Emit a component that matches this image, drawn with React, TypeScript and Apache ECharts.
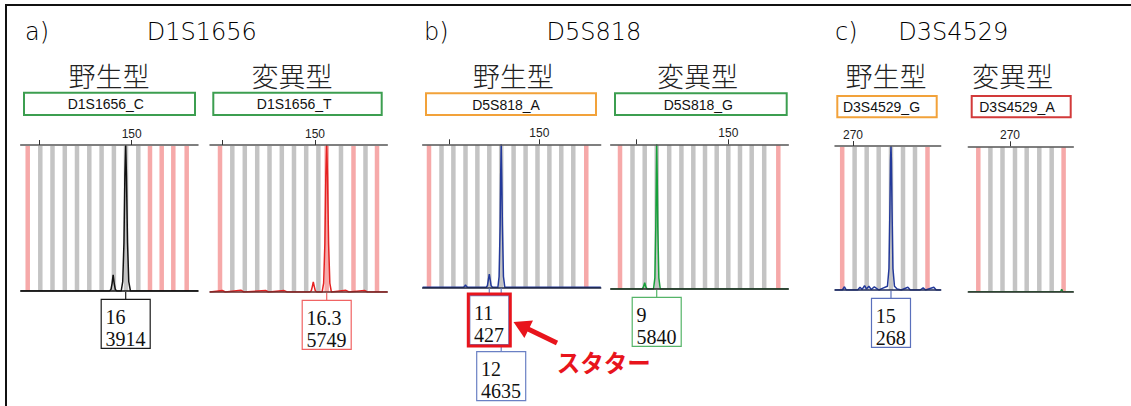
import React, { useEffect, useRef } from "react";
import * as echarts from "echarts";

// ---------------- data ----------------
// bins: [size in bp, kind] — kind 0 = allelic bin (grey), 1 = virtual bin (pink)
const D1S1656_C_BINS = [
  [116.35, 1], [120.42, 0], [124.37, 0], [128.35, 0], [132.3, 0], [136.28, 0], [140.26, 0],
  [144.24, 0], [148.16, 0], [152.14, 0], [155.92, 1], [159.71, 1], [163.47, 1], [167.8, 1],
];
const D1S1656_T_BINS = [
  [119.26, 1], [123.24, 0], [127.28, 0], [131.3, 0], [135.28, 0], [139.26, 0], [143.2, 0],
  [147.15, 0], [151.1, 0], [153.79, 1], [158.41, 0], [162.46, 1], [166.34, 0], [170.07, 1],
];
const D5S818_A_BINS = [
  [113.23, 1], [117.4, 0], [121.36, 0], [125.4, 0], [129.36, 0], [133.33, 0], [137.3, 0],
  [141.43, 0], [145.43, 0], [149.4, 0], [153.36, 0], [157.33, 0], [161.33, 0], [165.66, 1],
];
const D5S818_G_BINS = [
  [114.53, 1], [118.62, 0], [122.62, 0], [126.55, 0], [130.64, 0], [134.64, 0], [138.54, 0],
  [142.37, 0], [146.2, 0], [150.0, 0], [153.83, 0], [157.66, 0], [161.76, 0], [166.38, 1],
];
const D3S4529_G_BINS = [
  [266.46, 1], [270.53, 0], [274.49, 0], [278.43, 0], [282.46, 0], [286.4, 0], [290.33, 0], [294.43, 1],
];
const D3S4529_A_BINS = [
  [259.61, 1], [263.58, 0], [267.54, 0], [271.64, 0], [275.48, 0], [279.61, 0], [283.67, 0], [287.58, 1],
];

// traces: [size in bp, signal in RFU]
const D1S1656_C_TRACE = [
  [114.1, 0], [142.8, 0], [143.3, 40], [143.65, 200], [144.0, 430],
  [144.35, 200], [144.7, 40], [145.2, 0], [146.6, 0], [147.1, 250], [147.5, 1300], [147.8, 3100],
  [148.06, 3914], [148.3, 3100], [148.65, 1300], [149.05, 250], [149.6, 0], [171.5, 0],
];
const D1S1656_T_TRACE = [
  [116.0, 0], [120, 60], [121, 0], [126, 70], [127, 0], [134, 60], [135, 0], [140, 55], [141, 0],
  [148.3, 0], [148.8, 50], [149.15, 220], [149.45, 390], [149.75, 220], [150.1, 50], [150.6, 0],
  [152.3, 0], [152.8, 350], [153.2, 1900], [153.5, 4500], [153.79, 5749], [154.05, 4500],
  [154.4, 1900], [154.8, 350], [155.3, 0], [160, 65], [161, 0], [166, 60], [167, 0], [173.4, 0],
];
const D5S818_A_TRACE = [
  [111.1, 0], [124.7, 0], [125.1, 30], [125.4, 75], [125.7, 30], [126.1, 0], [132.3, 0], [132.7, 50],
  [133.0, 230], [133.33, 427], [133.65, 230], [133.95, 50], [134.4, 0], [136.2, 0], [136.6, 350],
  [136.95, 2000], [137.12, 3600], [137.3, 4635], [137.48, 3600], [137.7, 2000], [138.05, 350],
  [138.5, 0], [170.5, 0],
];
const D5S818_G_TRACE = [
  [111.5, 0], [121.8, 0], [122.2, 80], [122.62, 250], [123.0, 80], [123.4, 0], [125.5, 0],
  [125.95, 450], [126.25, 2500], [126.43, 4600], [126.55, 5840], [126.7, 4600], [126.9, 2500],
  [127.25, 450], [127.7, 0], [169.7, 0],
];
const D3S4529_G_TRACE = [
  [264.1, 0], [266.5, 0], [267.2, 6], [267.8, 0], [271.5, 0], [272.3, 5], [273, 1], [273.8, 8],
  [274.4, 2], [275.2, 7], [276, 1], [277, 6], [278.5, 0], [280, 4], [281.3, 7], [281.8, 40],
  [282.1, 150], [282.3, 240], [282.46, 268], [282.6, 240], [282.8, 150], [283.1, 40], [283.6, 7],
  [284.5, 2], [285.8, 0], [288, 5], [288.8, 0], [292, 0], [293, 4], [293.8, 0], [296.5, 5],
  [297.3, 0], [298.8, 0],
];
const D3S4529_A_TRACE = [[256.3, 0], [286.6, 0], [286.95, 5], [287.3, 0], [290.8, 0]];

// allele calls: allele, size (bp), height (RFU)
const D1S1656_C_CALLS = [{ allele: "16", bp: 148.06, rfu: 3914 }];
const D1S1656_T_CALLS = [{ allele: "16.3", bp: 153.79, rfu: 5749 }];
const D5S818_A_CALLS = [
  { allele: "12", bp: 137.3, rfu: 4635 },
  { allele: "11", bp: 133.33, rfu: 427 },
];
const D5S818_G_CALLS = [{ allele: "9", bp: 126.55, rfu: 5840 }];
const D3S4529_G_CALLS = [{ allele: "15", bp: 282.46, rfu: 268 }];
const D3S4529_A_CALLS: { allele: string; bp: number; rfu: number }[] = [];

// size-axis ticks and tick labels
const TICKS_150 = [120, 150];
const LABELS_150 = [150];
const TICKS_270 = [270];
const LABELS_270 = [270];

// size ranges shown in each panel
const RANGE_D1S1656_C = [114.08, 171.46];
const RANGE_D1S1656_T = [116.02, 173.4];
const RANGE_D5S818_A = [111.13, 170.47];
const RANGE_D5S818_G = [111.48, 169.65];
const RANGE_D3S4529_G = [264.1, 298.76];
const RANGE_D3S4529_A = [256.33, 290.76];

const EMPTY_SCALE = 300;

// ---------------- layout / style ----------------
const GREY = "#c4c4c4";
const PINK = "#f6a9a9";
const GREEN = "#3c9e50";
const ORANGE = "#f2a23a";
const RED = "#d23a3a";
const HIGHLIGHT = "#e8141c";

const PANELS = [
  {
    grid: { left: 20.7, top: 145, width: 177.3, height: 146 },
    range: RANGE_D1S1656_C, bins: D1S1656_C_BINS, trace: D1S1656_C_TRACE, calls: D1S1656_C_CALLS,
    ticks: TICKS_150, labels: LABELS_150, color: "#111111", base: "#111", boxColor: "#1a1a1a", rows: {}, highlight: "",
  },
  {
    grid: { left: 210, top: 145, width: 177.3, height: 147 },
    range: RANGE_D1S1656_T, bins: D1S1656_T_BINS, trace: D1S1656_T_TRACE, calls: D1S1656_T_CALLS,
    ticks: TICKS_150, labels: LABELS_150, color: "#e52222", base: "#6a2a2a", boxColor: "#f06464", rows: {}, highlight: "",
  },
  {
    grid: { left: 422.7, top: 144.3, width: 178, height: 143 },
    range: RANGE_D5S818_A, bins: D5S818_A_BINS, trace: D5S818_A_TRACE, calls: D5S818_A_CALLS,
    ticks: TICKS_150, labels: LABELS_150, color: "#23399a", base: "#1e2440", boxColor: "#6a80c4",
    rows: { "12": 1 } as Record<string, number>, highlight: "11",
  },
  {
    grid: { left: 610.7, top: 144.3, width: 177.6, height: 144.7 },
    range: RANGE_D5S818_G, bins: D5S818_G_BINS, trace: D5S818_G_TRACE, calls: D5S818_G_CALLS,
    ticks: TICKS_150, labels: LABELS_150, color: "#16a03a", base: "#222", boxColor: "#55b468", rows: {}, highlight: "",
  },
  {
    grid: { left: 835, top: 146, width: 105.7, height: 144 },
    range: RANGE_D3S4529_G, bins: D3S4529_G_BINS, trace: D3S4529_G_TRACE, calls: D3S4529_G_CALLS,
    ticks: TICKS_270, labels: LABELS_270, color: "#23399a", base: "#1e2a5a", boxColor: "#5a70bc", rows: {}, highlight: "",
  },
  {
    grid: { left: 968.3, top: 146.3, width: 105, height: 145.4 },
    range: RANGE_D3S4529_A, bins: D3S4529_A_BINS, trace: D3S4529_A_TRACE, calls: D3S4529_A_CALLS,
    ticks: TICKS_270, labels: LABELS_270, color: "#1d8a36", base: "#333", boxColor: "#55b468", rows: {}, highlight: "",
  },
];

const TITLES = [
  { tag: "a)", tagX: 25, name: "D1S1656", nameX: 201.7 },
  { tag: "b)", tagX: 424, name: "D5S818", nameX: 594 },
  { tag: "c)", tagX: 835, name: "D3S4529", nameX: 953.3 },
];
const TYPE_LABELS = [
  { text: "野生型", x: 109 }, { text: "変異型", x: 292 },
  { text: "野生型", x: 513.3 }, { text: "変異型", x: 697.5 },
  { text: "野生型", x: 886 }, { text: "変異型", x: 1012.5 },
];
const NAME_BOXES = [
  { text: "D1S1656_C", x: 24, y: 92.7, w: 171, h: 22.3, c: GREEN, tx: 105.8 },
  { text: "D1S1656_T", x: 213.3, y: 92.7, w: 168.4, h: 22.3, c: GREEN, tx: 294.2 },
  { text: "D5S818_A", x: 426, y: 93.3, w: 170, h: 21.7, c: ORANGE, tx: 506 },
  { text: "D5S818_G", x: 615, y: 93.3, w: 171.7, h: 21.7, c: GREEN, tx: 698.3 },
  { text: "D3S4529_G", x: 837.3, y: 96, w: 99.4, h: 21.3, c: ORANGE, tx: 881.5 },
  { text: "D3S4529_A", x: 971.7, y: 96, w: 99, h: 21.3, c: RED, tx: 1017 },
];

const textW = (s: string) => {
  let w = 0;
  for (const ch of s) w += ch === "." ? 5 : 10;
  return w;
};

function buildOption() {
  const grid: any[] = [];
  const xAxis: any[] = [];
  const yAxis: any[] = [];
  const series: any[] = [];

  PANELS.forEach((p, i) => {
    const yMax = p.calls.length ? Math.max(...p.calls.map((c) => c.rfu)) : EMPTY_SCALE;
    grid.push({ ...p.grid, containLabel: false, outerBoundsMode: "none" });
    xAxis.push({
      gridIndex: i, type: "value", position: "top", min: p.range[0], max: p.range[1], z: 5,
      axisLine: { show: true, onZero: false, lineStyle: { color: "#555", width: 1.5 } },
      axisTick: { show: true, inside: false, length: 5, customValues: p.ticks, lineStyle: { color: "#333", width: 1 } },
      axisLabel: {
        show: true, customValues: p.labels, margin: 5, fontSize: 12,
        fontFamily: "Liberation Sans", color: "#222",
      },
      splitLine: { show: false },
    });
    xAxis.push({
      gridIndex: i, type: "value", position: "bottom", min: p.range[0], max: p.range[1], z: 4,
      axisLine: { show: true, onZero: false, lineStyle: { color: p.base, width: 1.6 } },
      axisTick: { show: false }, axisLabel: { show: false }, splitLine: { show: false },
    });
    yAxis.push({ gridIndex: i, type: "value", min: 0, max: yMax, show: false, splitLine: { show: false } });

    // bins
    series.push({
      type: "custom", coordinateSystem: "cartesian2d", xAxisIndex: 2 * i, yAxisIndex: i, z: 1, silent: true,
      data: p.bins.map((b) => [b[0], b[1]]), encode: { x: 0, y: 1 },
      renderItem: (params: any, api: any) => {
        const bp = api.value(0);
        const kind = api.value(1);
        const t = api.coord([bp, yMax]);
        const b = api.coord([bp, 0]);
        return {
          type: "rect",
          shape: { x: t[0] - 2.25, y: t[1] + 1, width: 4.5, height: b[1] - t[1] - 1 },
          style: { fill: kind ? PINK : GREY },
        };
      },
    });
    // trace
    series.push({
      type: "line", xAxisIndex: 2 * i, yAxisIndex: i, z: 3, silent: true, data: p.trace,
      showSymbol: false, symbol: "none", lineStyle: { color: p.color, width: 1.5 }, smooth: false,
    });
    // allele call labels
    series.push({
      type: "custom", coordinateSystem: "cartesian2d", xAxisIndex: 2 * i, yAxisIndex: i, z: 6, silent: true,
      clip: false, data: p.calls.map((c) => [c.bp, 0]), encode: { x: 0, y: 1 },
      renderItem: (params: any, api: any) => {
        const c = p.calls[params.dataIndex];
        const pt = api.coord([c.bp, 0]);
        const row = (p.rows as Record<string, number>)[c.allele] || 0;
        const l1 = c.allele;
        const l2 = String(c.rfu);
        const w = Math.max(textW(l1), textW(l2)) + 9;
        const h = 49;
        const top = pt[1] + (row ? 64.4 : 8.3);
        const left = pt[0] - w / 2;
        const font = "20px 'Liberation Serif', 'Times New Roman', serif";
        const children: any[] = [
          { type: "line", z2: 1, shape: { x1: pt[0], y1: pt[1] + 1, x2: pt[0], y2: top }, style: { stroke: p.boxColor, lineWidth: 1.2 } },
          { type: "rect", z2: 5, shape: { x: left, y: top, width: w, height: h }, style: { fill: "#fff", stroke: p.boxColor, lineWidth: 1.2 } },
          { type: "text", z2: 6, style: { text: l1, x: left + 4.3, y: top + 17.4, font, fill: "#111", align: "left", verticalAlign: "middle", textAlign: "left", textVerticalAlign: "middle" } },
          { type: "text", z2: 6, style: { text: l2, x: left + 4.3, y: top + 39.5, font, fill: "#111", align: "left", verticalAlign: "middle", textAlign: "left", textVerticalAlign: "middle" } },
        ];
        if (p.highlight === c.allele) {
          children.push({
            type: "rect", z2: 7, shape: { x: left - 1.5, y: top - 1.5, width: w + 3, height: h + 3 },
            style: { fill: "none", stroke: HIGHLIGHT, lineWidth: 3 },
          });
        }
        return { type: "group", children };
      },
    });
  });

  const graphic: any[] = [
    { type: "rect", silent: true, shape: { x: 6, y: 5, width: 1400, height: 800 }, style: { fill: "none", stroke: "#111", lineWidth: 2 } },
  ];
  const mid = (text: string, x: number, y: number, font: string, fill: string, align = "center") => ({
    type: "text", silent: true,
    style: { text, x, y, font, fill, align, verticalAlign: "middle", textAlign: align, textVerticalAlign: "middle" },
  });
  TITLES.forEach((t) => {
    graphic.push(mid(t.tag, t.tagX, 32, "200 24px 'DejaVu Sans'", "#000", "left"));
    graphic.push(mid(t.name, t.nameX, 32, "200 24px 'DejaVu Sans'", "#000"));
  });
  TYPE_LABELS.forEach((t) => graphic.push(mid(t.text, t.x, 75.5, "300 27px 'Noto Sans CJK JP'", "#222")));
  NAME_BOXES.forEach((b) => {
    graphic.push({ type: "rect", silent: true, shape: { x: b.x, y: b.y, width: b.w, height: b.h }, style: { fill: "#fff", stroke: b.c, lineWidth: 2 } });
    graphic.push(mid(b.text, b.tx, b.y + b.h / 2 + 0.5, "14px 'Liberation Sans', Arial", "#111"));
  });
  // stutter annotation arrow
  graphic.push({ type: "line", silent: true, shape: { x1: 527, y1: 328.5, x2: 557, y2: 343 }, style: { stroke: HIGHLIGHT, lineWidth: 5 } });
  graphic.push({ type: "polygon", silent: true, shape: { points: [[513.5, 322], [524.4, 338], [533, 320.5]] }, style: { fill: HIGHLIGHT } });
  graphic.push(mid("スタター", 556.7, 361.5, "bold 23.5px 'Noto Sans CJK JP'", HIGHLIGHT, "left"));

  return { animation: false, backgroundColor: "#fff", grid, xAxis, yAxis, series, graphic };
}

export default function App() {
  const ref = useRef<HTMLDivElement>(null);
  useEffect(() => {
    if (!ref.current) return;
    const chart = echarts.init(ref.current, undefined, { renderer: "svg" });
    chart.setOption(buildOption() as any);
    return () => chart.dispose();
  }, []);
  return (
    <div
      ref={ref}
      style={{ position: "absolute", left: 0, top: 0, width: 1131, height: 406, background: "#fff" }}
    />
  );
}
